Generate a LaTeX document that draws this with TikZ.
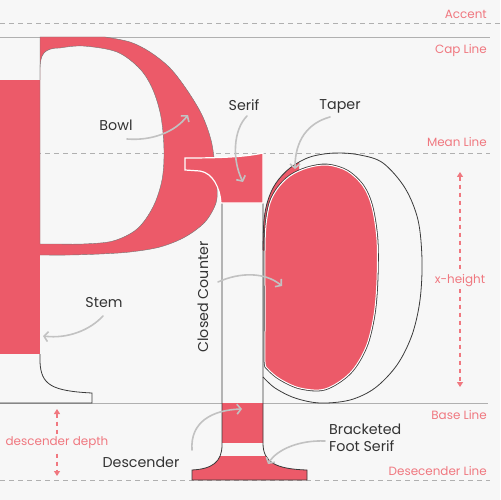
\documentclass[tikz,border=0pt]{standalone}
\usepackage{fontspec}
\setmainfont{Poppins}
\usetikzlibrary{arrows.meta}
\definecolor{bgc}{HTML}{F7F7F7}
\definecolor{pred}{HTML}{EC5A69}
\definecolor{ptext}{HTML}{F07880}
\definecolor{gline}{HTML}{B0B0B0}
\definecolor{agray}{HTML}{C2C2C2}
\definecolor{ink}{HTML}{333333}
\definecolor{olc}{HTML}{3A3A3A}
\begin{document}
\begin{tikzpicture}[x=1bp,y=-1bp,
  guidedash/.style={draw=gline, line width=0.9bp, dash pattern=on 5bp off 4bp},
  guidesolid/.style={draw=gline, line width=0.9bp},
  olin/.style={draw=olc, line width=0.8bp},
  bowlline/.style={draw=olc!70, line width=0.4bp},
  garrow/.style={draw=agray, line width=1.6bp, line cap=round, -{Straight Barb[length=4bp,width=10bp]}},
  parrow/.style={draw=ptext, line width=1.1bp, dash pattern=on 4bp off 4bp, {Triangle[length=5bp,width=6bp]}-{Triangle[length=5bp,width=6bp]}},
  lbl/.style={text=ink, font=\fontsize{14.3}{17}\selectfont, inner sep=0pt},
  plbl/.style={text=ptext, font=\fontsize{12}{15}\selectfont, inner sep=0pt}]
\useasboundingbox (0,0) rectangle (500,500);
\fill[bgc] (0,0) rectangle (500,500);

% guide lines
\draw[guidedash] (0,23) -- (500,23);
\draw[guidesolid] (0,37) -- (490,37);
\draw[guidedash] (0,153) -- (490,153);
\draw[guidesolid] (0,403) -- (488,403);
\draw[guidedash] (0,480) -- (490,480);

% ---- capital P ----
\fill[pred] (0,80) rectangle (40,354);
\fill[pred, even odd rule]
  (40,255) -- (40,37) -- plot[smooth, tension=0.55] coordinates {(105,37) (130,42) (150,52) (170,68) (187,90) (202,115) (211,140) (215,165) (217,185) (216,203) (205,222) (185,237) (160,247) (130,252) (100,254) (70,255) (40,255)} -- cycle
  (40,244) -- (40,70) .. controls (40,54) and (44,48) .. (60,48) -- plot[smooth, tension=0.55] coordinates {(60,48) (83,46) (117,52) (140,69) (153,90) (161,117) (164,150) (162,180) (153,207) (137,229) (113,241) (83,244) (60,244)} -- cycle;
\draw[bowlline] (40,80) -- (40,37) -- plot[smooth, tension=0.55] coordinates {(105,37) (130,42) (150,52) (170,68) (187,90) (202,115) (211,140) (215,165) (217,185) (216,203) (205,222) (185,237) (160,247) (130,252) (100,254) (70,255) (40,255)};
\draw[bowlline] (40,244) -- (40,70) .. controls (40,54) and (44,48) .. (60,48) -- plot[smooth, tension=0.55] coordinates {(60,48) (83,46) (117,52) (140,69) (153,90) (161,117) (164,150) (162,180) (153,207) (137,229) (113,241) (83,244) (60,244)} -- cycle;
\draw[olin] (40,354) -- (40,362) .. controls (41,385) and (52,391) .. (92,393) -- (92,403) -- (0,403);

% ---- small p ----
% taper
\begin{scope}
\clip (263,150) rectangle (299,250);
\fill[pred] (263,377) -- plot[smooth, tension=0.55] coordinates {(263,250) (264,220) (268,200) (276,183) (290,168) (310,157) (335,153) (360,155) (383,163) (405,188) (418,220) (422,260) (420,300) (412,335) (397,365) (375,388) (350,400) (320,403) (295,398) (275,388) (263,377)} -- cycle;
\end{scope}
% counter
\def\ctr{plot[smooth cycle, tension=0.55] coordinates {(265,362) (265,330) (265,290) (265,250) (266,225) (270,203) (278,188) (290,176) (307,168) (327,165) (347,171) (363,186) (372,207) (377,240) (377,280) (374,315) (366,347) (350,373) (325,389) (300,388) (280,379) (268,369)}}
\draw[olc, line width=2.6bp] \ctr;
\fill[pred] \ctr;
\draw[white, line width=1bp] \ctr;
% outer bowl
\draw[olin] plot[smooth, tension=0.55] coordinates {(263,250) (264,220) (268,200) (276,183) (290,168) (310,157) (335,153) (360,155) (383,163) (405,188) (418,220) (422,260) (420,300) (412,335) (397,365) (375,388) (350,400) (320,403) (295,398) (275,388) (263,377)};
% descender
\def\dsc{(222,203) -- (222,445) .. controls (222,462) and (212,469) .. (192,470) -- (192,480) -- (307,480) -- (307,470) .. controls (275,469) and (263,462) .. (263,443) -- (263,203)}
\begin{scope}
\clip \dsc -- cycle;
\fill[pred] (215,403) rectangle (270,443);
\fill[pred] (185,456) rectangle (315,485);
\end{scope}
\draw[olin] \dsc;
% top serif
\filldraw[fill=pred, draw=white, line width=1.2bp] (185,158) .. controls (220,158) and (245,157) .. (263,153) -- (263,203) -- (221,203) .. controls (220,188) and (213,173) .. (200,171) -- (185,170) -- cycle;

% ---- labels ----
\node[lbl] (bowl) at (116,125) {Bowl};
\node[lbl] (serif) at (244,105) {Serif};
\node[lbl] (taper) at (340,106) {Taper};
\node[lbl] (stem) at (104,303) {Stem};
\node[lbl, rotate=90] (closed) at (203,297) {Closed Counter};
\node[lbl] (desc) at (141,462) {Descender};
\node[lbl, align=left, anchor=west] (foot) at (329,438) {Bracketed\\Foot Serif};

\node[plbl, anchor=east] (accent) at (487,14) {Accent};
\node[plbl, anchor=east] (capl) at (487,51) {Cap Line};
\node[plbl, anchor=east] (meanl) at (487,142) {Mean Line};
\node[plbl, anchor=east] (basel) at (487,415) {Base Line};
\node[plbl, anchor=east] (descl) at (487,471) {Desecender Line};

% ---- gray arrows ----
\coordinate (bowlA) at (127,139); \coordinate (bowlB) at (188,115);
\draw[garrow] (bowlA) .. controls (152,141) and (175,132) .. (bowlB);
\coordinate (serifA) at (247,116); \coordinate (serifB) at (243,182);
\draw[garrow] (serifA) .. controls (233,130) and (232,160) .. (serifB);
\coordinate (taperA) at (330,117); \coordinate (taperB) at (295,169);
\draw[garrow] (taperA) .. controls (308,123) and (295,140) .. (taperB);
\coordinate (ccA) at (218,282); \coordinate (ccB) at (282,286);
\draw[garrow] (ccA) .. controls (240,272) and (265,272) .. (ccB);
\coordinate (stemA) at (103,316); \coordinate (stemB) at (43,336);
\draw[garrow] (stemA) .. controls (90,330) and (68,339) .. (stemB);
\coordinate (descA) at (192,450); \coordinate (descB) at (242,409);
\draw[garrow] (descA) .. controls (190,422) and (212,410) .. (descB);
\coordinate (footA) at (325,441); \coordinate (footB) at (268,464);
\draw[garrow] (footA) .. controls (300,440) and (277,449) .. (footB);

% ---- pink measure arrows ----
\coordinate (xhA) at (460,172); \coordinate (xhB) at (460,387);
\draw[parrow] (xhA) -- (xhB);
\node[plbl, fill=bgc, inner sep=2pt] (xh) at (460,281) {x-height};
\coordinate (ddA) at (57,409); \coordinate (ddB) at (57,476);
\draw[parrow] (ddA) -- (ddB);
\node[plbl, fill=bgc, inner sep=2pt] (dd) at (57,443) {descender depth};
\end{tikzpicture}
\end{document}
